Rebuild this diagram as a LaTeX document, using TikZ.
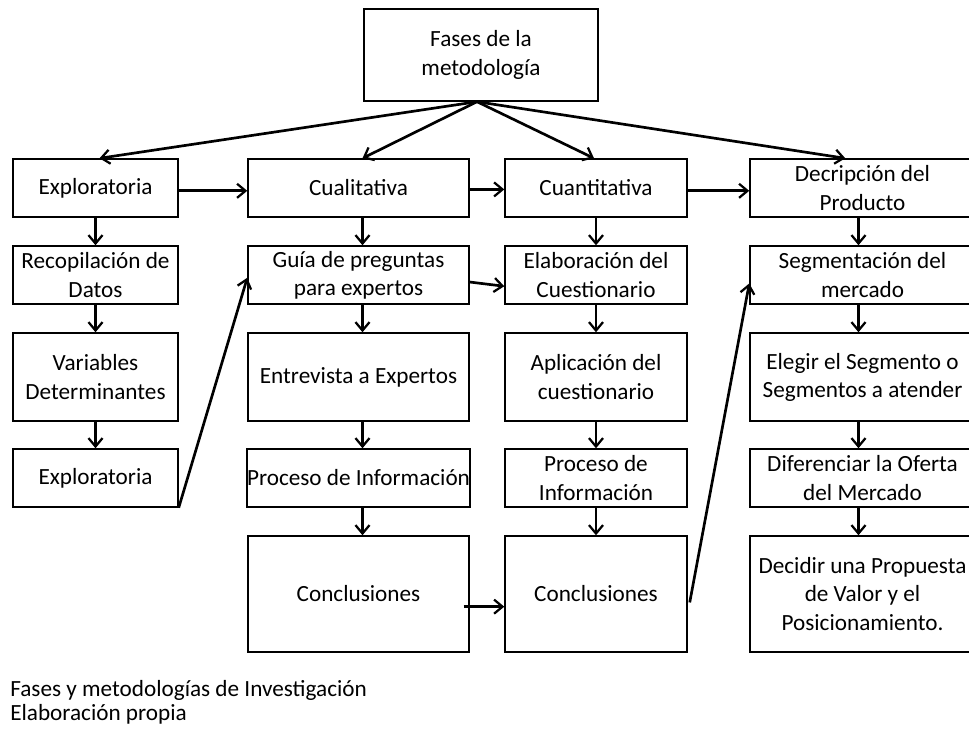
\documentclass[tikz,border=0pt]{standalone}
\usepackage{fontspec}
\setmainfont{Carlito}
\usetikzlibrary{arrows.meta}

\begin{document}
\begin{tikzpicture}[x=0.025cm,y=-0.025cm,
	caja/.style={draw,line width=1pt,align=center,inner sep=0pt,font=\fontsize{16.5}{20}\selectfont},
	colA/.style={caja,minimum width=4.125cm},
	colB/.style={caja,minimum width=5.525cm},
	colC/.style={caja,minimum width=4.55cm},
	colD/.style={caja,minimum width=5.625cm},
	bajo/.style={minimum height=1.45cm},
	alto/.style={minimum height=2.2cm},
	grande/.style={minimum height=2.9cm},
	flecha/.style={-{Straight Barb[length=6pt,width=10pt,line width=1.6pt]},line width=1.9pt}]
	\useasboundingbox (0,0) rectangle (969,736);
	
	% Caja principal
	\node[caja,minimum width=5.85cm,minimum height=2.3cm] (fases) at (481,55) {Fases de la\\metodología};
	
	% Primera fila
	\node[colA,bajo] (explo) at (95.5,188) {Exploratoria};
	\node[colB,bajo] (cuali) at (358.5,188) {Cualitativa};
	\node[colC,bajo] (cuanti) at (596,188) {Cuantitativa};
	\node[colD,bajo] (descr) at (862.5,188) {Decripción del\\Producto};
	
	% Columna exploratoria
	\node[colA,bajo] (recop) at (95.5,275) {Recopilación de\\Datos};
	\node[colA,alto] (varia) at (95.5,377) {Variables\\Determinantes};
	\node[colA,bajo] (explo2) at (95.5,478) {Exploratoria};
	
	% Columna cualitativa
	\node[colB,bajo] (guia) at (358.5,275) {Guía de preguntas\\para expertos};
	\node[colB,alto] (entrev) at (358.5,377) {Entrevista a Expertos};
	\node[colB,bajo] (procB) at (358.5,478) {Proceso de Información};
	\node[colB,grande] (conclB) at (358.5,594) {Conclusiones};
	
	% Columna cuantitativa
	\node[colC,bajo] (elab) at (596,275) {Elaboración del\\Cuestionario};
	\node[colC,alto] (aplic) at (596,377) {Aplicación del\\cuestionario};
	\node[colC,bajo] (procC) at (596,478) {Proceso de\\Información};
	\node[colC,grande] (conclC) at (596,594) {Conclusiones};
	
	% Columna producto
	\node[colD,bajo] (segm) at (862.5,275) {Segmentación del\\mercado};
	\node[colD,alto] (elegir) at (862.5,377) {Elegir el Segmento o\\Segmentos a atender};
	\node[colD,bajo] (difer) at (862.5,478) {Diferenciar la Oferta\\del Mercado};
	\node[colD,grande] (decid) at (862.5,594) {Decidir una Propuesta\\de Valor y el\\Posicionamiento.};
	
	% Pie
	\node[anchor=west,inner sep=0pt,font=\fontsize{16.5}{20}\selectfont] (pie1) at (10,690) {Fases y metodologías de Investigación};
	\node[anchor=west,inner sep=0pt,font=\fontsize{16.5}{20}\selectfont] (pie2) at (10,714) {Elaboración propia};
	
	% Flechas desde la caja principal
	\draw[flecha] ([xshift=-0.1cm]fases.south) -- ([xshift=0.1cm]explo.north);
	\draw[flecha] ([xshift=-0.1cm]fases.south) -- ([xshift=0.1cm]cuali.north);
	\draw[flecha] ([xshift=-0.1cm]fases.south) -- ([xshift=-0.05cm]cuanti.north);
	\draw[flecha] ([xshift=-0.1cm]fases.south) -- ([xshift=-0.43cm]descr.north);
	
	% Flechas horizontales
	\draw[flecha] ([yshift=-2pt]explo.east) -- ([yshift=-2pt]cuali.west);
	\draw[flecha] ([yshift=-1pt]cuali.east) -- ([yshift=-1pt]cuanti.west);
	\draw[flecha] ([yshift=-2pt]cuanti.east) -- ([yshift=-2pt]descr.west);
	\draw[flecha] ([yshift=-5pt]guia.east) -- ([yshift=-8pt]elab.west);
	\draw[flecha] ([xshift=-0.15cm,yshift=-9pt]conclB.east) -- ([yshift=-9pt]conclC.west);
	
	% Flechas diagonales
	\draw[flecha] (explo2.south east) -- ([yshift=-2pt]guia.west);
	\draw[flecha] ([xshift=0.05cm,yshift=-6pt]conclC.east) -- ([yshift=-6pt]segm.west);
	
	% Flechas verticales
	\draw[flecha] (explo) -- (recop);
	\draw[flecha] (recop) -- (varia);
	\draw[flecha] (varia) -- (explo2);
	\draw[flecha] ([xshift=0.1cm]cuali.south) -- ([xshift=0.1cm]guia.north);
	\draw[flecha] ([xshift=0.1cm]guia.south) -- ([xshift=0.1cm]entrev.north);
	\draw[flecha] ([xshift=0.1cm]entrev.south) -- ([xshift=0.1cm]procB.north);
	\draw[flecha] ([xshift=0.1cm]procB.south) -- ([xshift=0.1cm]conclB.north);
	\draw[flecha] (cuanti) -- (elab);
	\draw[flecha] (elab) -- (aplic);
	\draw[flecha] (aplic) -- (procC);
	\draw[flecha] (procC) -- (conclC);
	\draw[flecha] ([xshift=-0.1cm]descr.south) -- ([xshift=-0.1cm]segm.north);
	\draw[flecha] ([xshift=-0.1cm]segm.south) -- ([xshift=-0.1cm]elegir.north);
	\draw[flecha] ([xshift=-0.1cm]elegir.south) -- ([xshift=-0.1cm]difer.north);
	\draw[flecha] ([xshift=-0.1cm]difer.south) -- ([xshift=-0.1cm]decid.north);
\end{tikzpicture}
\end{document}
